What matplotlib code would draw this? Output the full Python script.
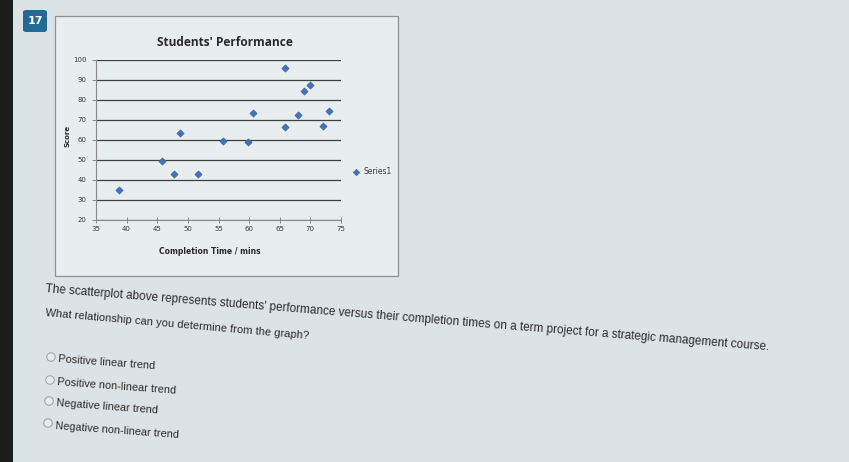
import matplotlib
matplotlib.use("Agg")
import matplotlib.pyplot as plt
from matplotlib.patches import Rectangle, Ellipse, FancyBboxPatch

# ---- data ----
completion_time = [38.8, 45.7, 47.7, 48.7, 51.6, 55.8, 59.8, 60.7, 65.9, 65.8, 67.9, 68.9, 70.0, 72.1, 73.1]
score = [35, 49.5, 43, 63.5, 43, 59.5, 59, 73.5, 66.5, 96, 72.5, 84.5, 87.5, 67, 74.5]
x_ticks = [35, 40, 45, 50, 55, 60, 65, 70, 75]
y_ticks = [20, 30, 40, 50, 60, 70, 80, 90, 100]
series_name = "Series1"
title = "Students' Performance"
question_1 = ("The scatterplot above represents students' performance versus their completion "
              "times on a term project for a strategic management course.")
question_2 = "What relationship can you determine from the graph?"
options = ["Positive linear trend", "Positive non-linear trend",
           "Negative linear trend", "Negative non-linear trend"]

W, H = 849, 462
fig = plt.figure(figsize=(W / 100, H / 100), dpi=100)
fig.patch.set_facecolor('#dce3e6')

def fx(px):
    return px / W

def fy(py):
    return 1 - py / H

# dark screen bezel on the left
fig.add_artist(Rectangle((0, 0), fx(13), 1, transform=fig.transFigure,
                         facecolor='#1c1c1c', edgecolor='none', zorder=-5))

# question number badge
fig.add_artist(FancyBboxPatch((fx(23), fy(32)), fx(24), fy(10) - fy(32),
                              boxstyle='round,pad=0,rounding_size=0.004',
                              transform=fig.transFigure, facecolor='#236a96',
                              edgecolor='none', zorder=-4))
fig.text(fx(35), fy(21), '17', color='white', fontsize=8, fontweight='bold',
         ha='center', va='center', family='DejaVu Sans')

# chart area box
fig.add_artist(Rectangle((fx(55), fy(276)), fx(398) - fx(55), fy(16) - fy(276),
                         transform=fig.transFigure, facecolor='#e8edef',
                         edgecolor='#8d9295', linewidth=0.9, zorder=-4))

ax = fig.add_axes([fx(96), fy(220), fx(341) - fx(96), fy(60) - fy(220)])
ax.set_zorder(2)
ax.set_facecolor('none')
ax.scatter(completion_time, score, marker='D', s=14, color='#4472b8',
           edgecolors='#3a66a8', linewidths=0.4, zorder=3, label=series_name)
ax.set_xlim(35, 75)
ax.set_ylim(20, 100)
ax.set_xticks(x_ticks)
ax.set_yticks(y_ticks)
ax.yaxis.grid(True, color='#3d3f41', linewidth=0.9)
ax.set_axisbelow(True)
for s in ['top', 'right']:
    ax.spines[s].set_visible(False)
for s in ['left', 'bottom']:
    ax.spines[s].set_color('#8a8a8a')
    ax.spines[s].set_linewidth(0.8)
ax.tick_params(axis='x', direction='inout', length=5, width=0.7, color='#8a8a8a',
               labelsize=5, labelcolor='#3a3a3a', pad=2)
ax.tick_params(axis='y', direction='out', length=3, width=0.7, color='#8a8a8a',
               labelsize=5, labelcolor='#3a3a3a', pad=4)

ax.legend(loc='center left', bbox_to_anchor=(1.0, 0.30), frameon=False,
          fontsize=5.5, handletextpad=0.1, markerscale=0.9, labelcolor='#3a3a3a')

fig.text(fx(225), fy(42), title, fontsize=8.6, fontweight='bold', ha='center',
         va='center', color='#2a2a2a', family='Open Sans')
fig.text(fx(67), fy(136), 'Score', fontsize=5, fontweight='bold', rotation=90,
         ha='center', va='center', color='#2a2a2a')
fig.text(fx(210), fy(252), 'Completion Time / mins', fontsize=5.5, fontweight='bold',
         ha='center', va='center', color='#2a2a2a')

body = ['Liberation Sans', 'DejaVu Sans']
fig.text(fx(45), fy(289), question_1, fontsize=8.45, color='#2b2b2b', family=body,
         rotation=-4.6, rotation_mode='anchor', ha='left', va='center')
fig.text(fx(45), fy(313), question_2, fontsize=8.0, color='#2b2b2b', family=body,
         rotation=-5.0, rotation_mode='anchor', ha='left', va='center')

radio_y = [357, 380, 401, 423]
radio_x = [51, 50, 49, 48]
text_y = [361, 384, 405, 428]
for i, opt in enumerate(options):
    fig.add_artist(Ellipse((fx(radio_x[i]), fy(radio_y[i])), 8.5 / W, 8.5 / H,
                           transform=fig.transFigure, facecolor='#e6ecee',
                           edgecolor='#a3a8ab', linewidth=0.8))
    fig.text(fx(radio_x[i] + 7), fy(text_y[i] - 2), opt, fontsize=7.9, color='#2b2b2b',
             family=body, rotation=-4.2, rotation_mode='anchor', ha='left', va='center')

fig.savefig('out.png', dpi=100, facecolor=fig.get_facecolor())
